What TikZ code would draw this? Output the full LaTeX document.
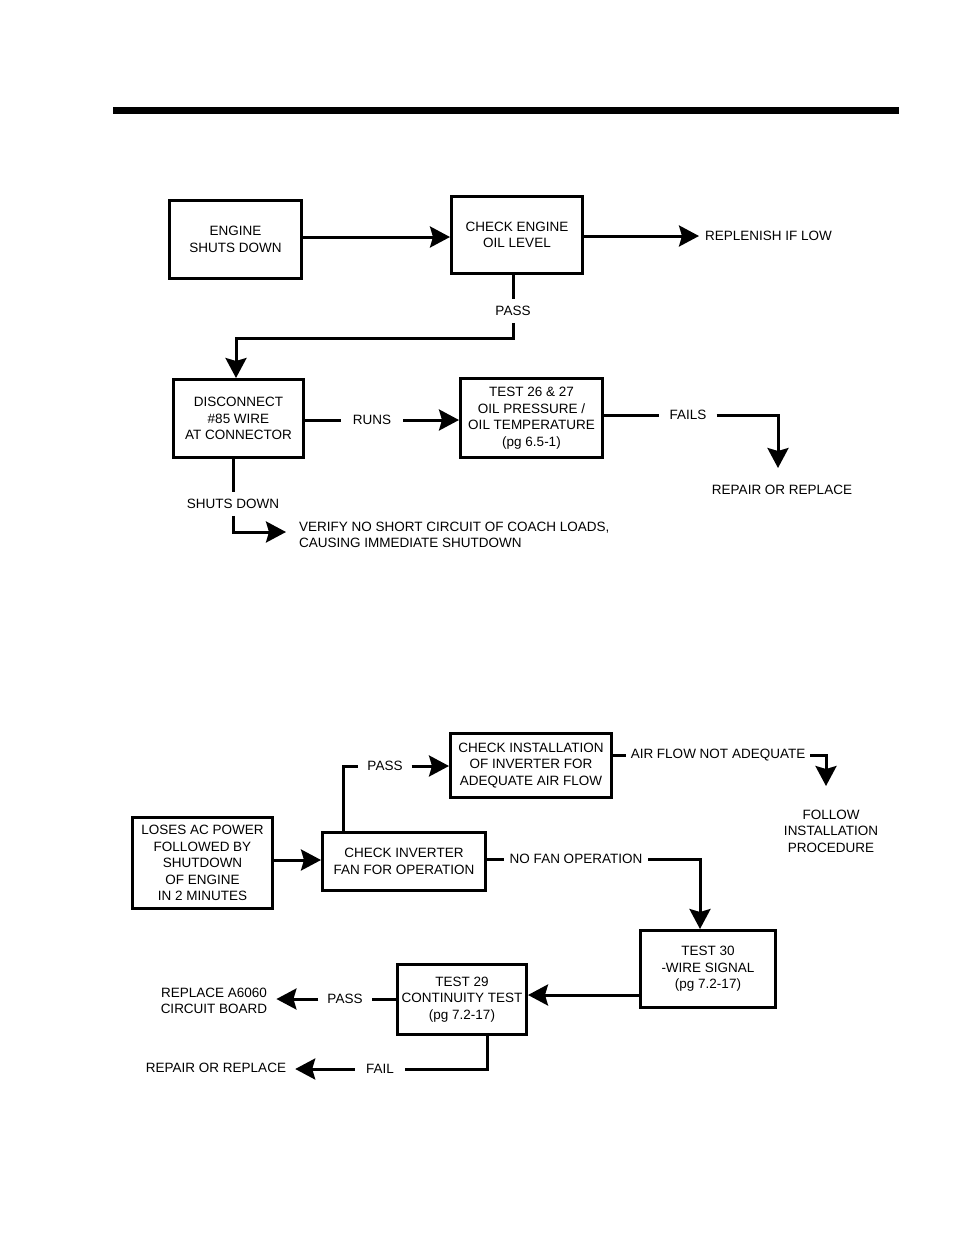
\documentclass[tikz,border=0pt]{standalone}
\usepackage{fontspec}
\setmainfont{Liberation Sans}
\usetikzlibrary{arrows.meta}
\begin{document}
\begin{tikzpicture}[x=1pt,y=-1pt,
  every node/.style={font=\fontsize{13.5}{16.5}\selectfont, align=center},
  box/.style={draw, line width=3pt, inner sep=0pt},
  lbl/.style={inner xsep=11pt, inner ysep=7pt},
  ln/.style={line width=3pt},
  arr/.style={line width=3pt, -{Stealth[length=20pt,width=21pt,inset=3pt]}}]
\useasboundingbox (0,0) rectangle (954,1235);
\fill (113,107) rectangle (899,114);
% ---------- upper chart ----------
\node[box, minimum width=132pt, minimum height=78pt] (b1) at (235.5,239.5) {ENGINE\\SHUTS DOWN};
\node[box, minimum width=131pt, minimum height=77pt] (b2) at (517,235) {CHECK ENGINE\\OIL LEVEL};
\node[anchor=west, inner sep=0pt] (r1) at (705,236) {REPLENISH IF LOW};
\draw[arr] (b1.east |- 0,237) -- (b2.west |- 0,237);
\draw[arr] (b2.east |- 0,236) -- ([xshift=-6pt]r1.west);
\node[lbl] (pass1) at (513,311) {PASS};
\draw[ln] (b2.south -| pass1) -- (pass1.north);
\node[box, minimum width=130pt, minimum height=78pt] (b3) at (238.5,418.5) {DISCONNECT\\\#85 WIRE\\AT CONNECTOR};
\coordinate (c1) at (236,338);
\draw[arr] (pass1.south) |- (c1) -- (b3.north -| c1);
\node[box, minimum width=142pt, minimum height=79pt] (b4) at (531.5,418) {TEST 26 \& 27\\OIL PRESSURE /\\OIL TEMPERATURE\\(pg 6.5-1)};
\node[lbl, inner xsep=12pt] (runs) at (372,420) {RUNS};
\draw[ln] (b3.east |- runs) -- (runs.west);
\draw[arr] (runs.east) -- (b4.west |- runs);
\node[lbl, inner xsep=10pt] (fails) at (688,415) {FAILS};
\draw[ln] (b4.east |- fails) -- (fails.west);
\node (rr1) at (782,490) {REPAIR OR REPLACE};
\coordinate (c2) at (778,468);
\draw[arr] (fails.east) -| (c2);
\node[lbl] (sd) at (233,504) {SHUTS DOWN};
\draw[ln] (b3.south -| sd) -- (sd.north);
\node[anchor=west, align=left, inner sep=0pt] (verify) at (299,535) {VERIFY NO SHORT CIRCUIT OF COACH LOADS,\\CAUSING IMMEDIATE SHUTDOWN};
\coordinate (c3) at (286,532);
\draw[arr] (sd.south) |- (c3);
% ---------- lower chart ----------
\node[box, minimum width=140pt, minimum height=91pt] (b5) at (202.5,863) {LOSES AC POWER\\FOLLOWED BY\\SHUTDOWN\\OF ENGINE\\IN 2 MINUTES};
\node[box, minimum width=163pt, minimum height=58pt] (b6) at (404,861.5) {CHECK INVERTER\\FAN FOR OPERATION};
\draw[arr] (b5.east |- 0,860) -- (b6.west |- 0,860);
\node[box, minimum width=161pt, minimum height=64pt] (b7) at (531,765.5) {CHECK INSTALLATION\\OF INVERTER FOR\\ADEQUATE AIR FLOW};
\node[lbl, inner xsep=9pt] (pass2) at (385,766) {PASS};
\draw[ln] (b6.north -| 343,0) |- (pass2.west);
\draw[arr] (pass2.east) -- (b7.west |- pass2);
\node[lbl, inner xsep=5pt] (afna) at (718,755) {AIR FLOW NOT ADEQUATE};
\draw[ln] (b7.east |- afna) -- (afna.west);
\node (follow) at (831,831) {FOLLOW\\INSTALLATION\\PROCEDURE};
\coordinate (c4) at (826,786);
\draw[arr] (afna.east) -| (c4);
\node[box, minimum width=135pt, minimum height=77pt] (b8) at (708,969) {TEST 30\\-WIRE SIGNAL\\(pg 7.2-17)};
\node[lbl, inner xsep=6pt] (nfo) at (576,859) {NO FAN OPERATION};
\draw[ln] (b6.east |- nfo) -- (nfo.west);
\draw[arr] (nfo.east) -| (b8.north -| 700,0);
\node[box, minimum width=129pt, minimum height=70pt] (b9) at (462,999.5) {TEST 29\\CONTINUITY TEST\\(pg 7.2-17)};
\draw[arr] (b8.west |- 0,995) -- (b9.east |- 0,995);
\node[lbl, inner xsep=9pt] (pass3) at (345,999) {PASS};
\node[inner xsep=9pt] (rep) at (214,1001) {REPLACE A6060\\CIRCUIT BOARD};
\draw[ln] (b9.west |- pass3) -- (pass3.east);
\draw[arr] (pass3.west) -- (rep.east |- pass3);
\node[lbl, inner xsep=11pt] (fail) at (380,1069) {FAIL};
\node[inner xsep=9pt] (rr2) at (216,1068) {REPAIR OR REPLACE};
\draw[ln] (b9.south -| 487,0) |- (fail.east);
\draw[arr] (fail.west) -- (rr2.east |- fail);
\end{tikzpicture}
\end{document}
